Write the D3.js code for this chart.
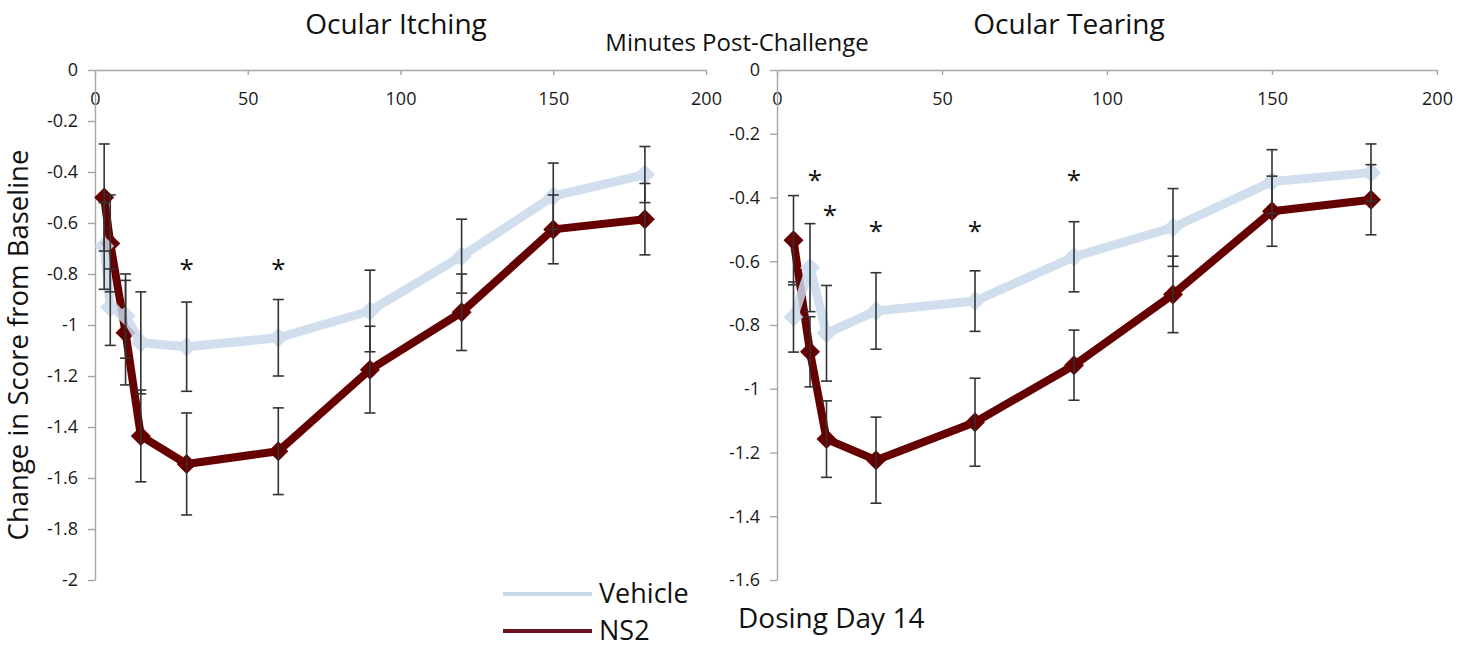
<!DOCTYPE html>
<html>
<head>
<meta charset="utf-8">
<script src="https://cdn.jsdelivr.net/npm/d3@7"></script>
<style>
  body { margin: 0; background: #fff; }
  svg { display: block; font-family: "Open Sans", sans-serif; }
</style>
</head>
<body>
<svg id="chart"></svg>
<script>
// values
var xTicks = [0, 50, 100, 150, 200];

// Ocular Itching
var itchTime = [3, 5, 10, 15, 30, 60, 90, 120, 150, 180];
var itchVehicle = [-0.69, -0.93, -0.965, -1.07, -1.085, -1.05, -0.945, -0.73, -0.495, -0.41];
var itchVehicleErr = [0.17, 0.15, 0.165, 0.2, 0.175, 0.15, 0.16, 0.145, 0.13, 0.11];
var itchNS2 = [-0.5, -0.68, -1.03, -1.435, -1.545, -1.495, -1.175, -0.95, -0.625, -0.585];
var itchNS2Err = [0.21, 0.19, 0.205, 0.18, 0.2, 0.17, 0.17, 0.15, 0.135, 0.14];
var itchYTicks = [0, -0.2, -0.4, -0.6, -0.8, -1, -1.2, -1.4, -1.6, -1.8, -2];
var itchStarTime = [30, 60];
var itchStarValue = [-0.76, -0.76];

// Ocular Tearing
var tearTime = [5, 10, 15, 30, 60, 90, 120, 150, 180];
var tearVehicle = [-0.775, -0.62, -0.826, -0.756, -0.725, -0.586, -0.494, -0.35, -0.322];
var tearVehicleErr = [0.11, 0.138, 0.15, 0.12, 0.095, 0.11, 0.122, 0.1, 0.09];
var tearNS2 = [-0.534, -0.884, -1.158, -1.224, -1.105, -0.926, -0.704, -0.443, -0.407];
var tearNS2Err = [0.14, 0.11, 0.12, 0.135, 0.138, 0.11, 0.12, 0.11, 0.11];
var tearYTicks = [0, -0.2, -0.4, -0.6, -0.8, -1, -1.2, -1.4, -1.6];
var tearStarTime = [11.5, 16, 30, 60, 90];
var tearStarValue = [-0.33, -0.44, -0.49, -0.49, -0.33];

var seriesNames = ["Vehicle", "NS2"];
var vehicleColor = "#c9d9ec";
var ns2Color = "#660505";

var w = 1467, h = 648;
var svg = d3.select("#chart").attr("width", w).attr("height", h);

// soft edges like the office-style chart
var defs = svg.append("defs");
defs.append("filter").attr("id", "soft")
  .attr("x", "-5%").attr("y", "-5%").attr("width", "110%").attr("height", "110%")
  .append("feGaussianBlur").attr("stdDeviation", 0.7);

function fmt(d) {
  return String(Math.round(d * 10) / 10);
}

function diamond(r) {
  return "M0," + (-r) + "L" + r + ",0L0," + r + "L" + (-r) + ",0Z";
}

function drawPanel(p) {
  var x = d3.scaleLinear().domain([0, 200]).range([p.left, p.right]);
  var y = d3.scaleLinear().domain([0, p.yMin]).range([70, 580]);

  // title
  svg.append("text")
    .attr("x", p.titleX).attr("y", 34)
    .attr("text-anchor", "middle")
    .style("font-size", "28px")
    .style("fill", "#111")
    .text(p.title);

  // x axis sits at the top (value 0), labels under the line
  var gx = svg.append("g")
    .attr("transform", "translate(0," + y(0) + ")")
    .call(d3.axisBottom(x).tickValues(xTicks).tickSize(5).tickPadding(17).tickSizeOuter(0));

  var gy = svg.append("g")
    .attr("transform", "translate(" + x(0) + ",0)")
    .call(d3.axisLeft(y).tickValues(p.yTicks).tickFormat(fmt).tickSize(7).tickPadding(10).tickSizeOuter(0));

  [gx, gy].forEach(function(g) {
    g.attr("font-size", null).attr("font-family", null);
    g.selectAll("path, line").attr("stroke", "#a6a6a6").attr("stroke-width", 1.4);
    g.selectAll("text").style("font-size", "18px").style("fill", "#1a1a1a");
  });

  var series = [
    { name: "NS2", values: p.ns2, err: p.ns2Err, color: ns2Color, width: 8, opacity: 1 },
    { name: "Vehicle", values: p.vehicle, err: p.vehicleErr, color: vehicleColor, width: 9, opacity: 0.85 }
  ];

  var line = d3.line()
    .x(function(d) { return x(d.t); })
    .y(function(d) { return y(d.v); });

  series.forEach(function(s) {
    var pts = p.time.map(function(t, i) { return { t: t, v: s.values[i], e: s.err[i] }; });
    s.pts = pts;
    var g = svg.append("g").attr("filter", "url(#soft)").style("opacity", s.opacity);
    g.append("path")
      .datum(pts)
      .attr("d", line)
      .attr("fill", "none")
      .attr("stroke", s.color)
      .attr("stroke-width", s.width)
      .attr("stroke-linejoin", "round");
    g.selectAll(".marker")
      .data(pts)
      .enter()
      .append("path")
      .attr("class", "marker")
      .attr("transform", function(d) { return "translate(" + x(d.t) + "," + y(d.v) + ")"; })
      .attr("d", diamond(10))
      .attr("fill", s.color);
  });

  // error bars on top of the lines
  series.forEach(function(s) {
    var eb = svg.append("g").attr("stroke", "#333").attr("stroke-width", 1.6);
    s.pts.forEach(function(d) {
      var cx = x(d.t), top = y(d.v + d.e), bot = y(d.v - d.e);
      eb.append("line").attr("x1", cx).attr("x2", cx).attr("y1", top).attr("y2", bot);
      eb.append("line").attr("x1", cx - 5.5).attr("x2", cx + 5.5).attr("y1", top).attr("y2", top);
      eb.append("line").attr("x1", cx - 5.5).attr("x2", cx + 5.5).attr("y1", bot).attr("y2", bot);
    });
  });

  // significance stars
  svg.append("g").selectAll("text")
    .data(p.starTime)
    .enter()
    .append("text")
    .attr("x", function(d) { return x(d); })
    .attr("y", function(d, i) { return y(p.starValue[i]) + 14; })
    .attr("text-anchor", "middle")
    .style("font-size", "26px")
    .style("fill", "#111")
    .text("*");
}

drawPanel({
  title: "Ocular Itching", titleX: 396,
  left: 95, right: 706, yMin: -2, yTicks: itchYTicks,
  time: itchTime, vehicle: itchVehicle, vehicleErr: itchVehicleErr,
  ns2: itchNS2, ns2Err: itchNS2Err,
  starTime: itchStarTime, starValue: itchStarValue
});

drawPanel({
  title: "Ocular Tearing", titleX: 1069,
  left: 777, right: 1437, yMin: -1.6, yTicks: tearYTicks,
  time: tearTime, vehicle: tearVehicle, vehicleErr: tearVehicleErr,
  ns2: tearNS2, ns2Err: tearNS2Err,
  starTime: tearStarTime, starValue: tearStarValue
});

// shared x axis title
svg.append("text")
  .attr("x", 737).attr("y", 51)
  .attr("text-anchor", "middle")
  .style("font-size", "24px")
  .style("fill", "#111")
  .text("Minutes Post-Challenge");

// y axis title
svg.append("text")
  .attr("transform", "translate(28,345) rotate(-90)")
  .attr("text-anchor", "middle")
  .style("font-size", "27.5px")
  .style("fill", "#111")
  .text("Change in Score  from Baseline");

// legend
var legend = svg.append("g").attr("transform", "translate(503,594)");
var legendColors = [vehicleColor, "#6b1420"];
seriesNames.forEach(function(name, i) {
  legend.append("line")
    .attr("x1", 0).attr("x2", 89)
    .attr("y1", i * 37).attr("y2", i * 37)
    .attr("stroke", legendColors[i])
    .attr("stroke-width", 4);
  legend.append("text")
    .attr("x", 96).attr("y", i * 37 + 9)
    .style("font-size", "27px")
    .style("fill", "#111")
    .text(name);
});

svg.append("text")
  .attr("x", 738).attr("y", 628)
  .style("font-size", "28px")
  .style("fill", "#111")
  .text("Dosing Day 14");
</script>
</body>
</html>
